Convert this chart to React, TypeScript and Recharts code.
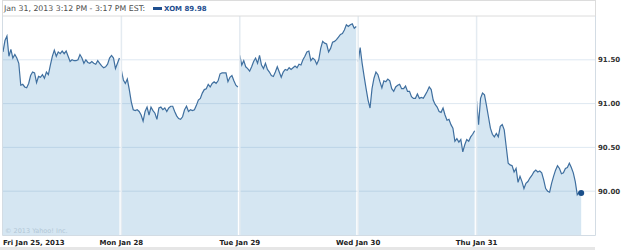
import React from 'react';
import {
  AreaChart,
  Area,
  XAxis,
  YAxis,
  ReferenceLine,
  ReferenceDot
} from 'recharts';

// minutes per trading session (9:30 - 16:00) and sampling step in minutes
const SESSION = 390;
const STEP = 6.5;

const dayLabels = ['Fri Jan 25, 2013', 'Mon Jan 28', 'Tue Jan 29', 'Wed Jan 30', 'Thu Jan 31'];

const fri = [
  91.59, 91.72, 91.77, 91.54, 91.62, 91.52, 91.56, 91.52, 91.46, 91.21,
  91.22, 91.19, 91.18, 91.23, 91.32, 91.36, 91.35, 91.24, 91.31, 91.30,
  91.33, 91.29, 91.36, 91.33, 91.44, 91.54, 91.61, 91.54, 91.59, 91.57,
  91.60, 91.57, 91.60, 91.54, 91.48, 91.50, 91.49, 91.49, 91.50, 91.56,
  91.52, 91.46, 91.50, 91.47, 91.46, 91.48, 91.46, 91.45, 91.49, 91.46,
  91.43, 91.41, 91.42, 91.45, 91.52, 91.55, 91.52, 91.40, 91.46, 91.52
];

const mon = [
  91.38, 91.27, 91.23, 91.28, 91.16, 91.02, 90.93, 90.92, 90.93, 90.91,
  90.87, 90.80, 90.91, 90.96, 90.87, 90.96, 90.92, 90.89, 90.82, 90.95,
  90.96, 90.93, 90.95, 90.91, 90.95, 90.97, 90.97, 90.91, 90.86, 90.83,
  90.82, 90.85, 90.93, 90.97, 90.91, 90.93, 90.92, 90.93, 90.98, 91.04,
  91.06, 91.12, 91.16, 91.17, 91.22, 91.19, 91.23, 91.25, 91.23, 91.26,
  91.34, 91.35, 91.35, 91.35, 91.25, 91.30, 91.32, 91.26, 91.21, 91.19
];

const tue = [
  91.55, 91.44, 91.49, 91.42, 91.40, 91.37, 91.42, 91.48, 91.52, 91.46,
  91.55, 91.44, 91.40, 91.46, 91.39, 91.36, 91.32, 91.31, 91.36, 91.42,
  91.36, 91.30, 91.36, 91.39, 91.38, 91.41, 91.39, 91.41, 91.43, 91.41,
  91.45, 91.44, 91.50, 91.54, 91.59, 91.60, 91.49, 91.52, 91.50, 91.45,
  91.50, 91.63, 91.71, 91.69, 91.68, 91.59, 91.63, 91.70, 91.71, 91.73,
  91.76, 91.79, 91.80, 91.84, 91.90, 91.88, 91.90, 91.91, 91.86, 91.88
];

const wed = [
  91.48, 91.64, 91.46, 91.31, 91.17, 91.04, 90.95, 91.17, 91.29, 91.36,
  91.33, 91.25, 91.18, 91.26, 91.25, 91.28, 91.26, 91.17, 91.14, 91.19,
  91.21, 91.22, 91.17, 91.17, 91.20, 91.14, 91.14, 91.08, 91.06, 91.06,
  91.11, 91.06, 91.07, 91.06, 91.10, 91.14, 91.19, 91.16, 91.04, 90.99,
  90.96, 90.91, 90.90, 90.95, 90.87, 90.81, 90.82, 90.76, 90.72, 90.57,
  90.60, 90.56, 90.59, 90.45, 90.53, 90.59, 90.57, 90.62, 90.65, 90.69
];

const thu = [
  91.03, 90.76, 91.06, 91.12, 91.10, 90.98, 90.85, 90.72, 90.65, 90.62,
  90.66, 90.62, 90.74, 90.76, 90.70, 90.51, 90.32, 90.30, 90.29, 90.22,
  90.26, 90.10, 90.17, 90.11, 90.03, 90.09, 90.11, 90.15, 90.18, 90.22,
  90.24, 90.22, 90.23, 90.21, 90.13, 90.03, 90.00, 89.99, 90.09, 90.17,
  90.24, 90.29, 90.26, 90.20, 90.21, 90.26, 90.27, 90.32, 90.27, 90.21,
  90.11, 89.96, 89.99, 89.98
];

const dayPrices = [fri, mon, tue, wed, thu];
const priceTicks = [90, 90.5, 91, 91.5];
const priceDomain = [89.5, 92];

const symbol = 'XOM';
const headerRange = 'Jan 31, 2013 3:12 PM - 3:17 PM EST:';

// one row per sample, with a null row between sessions so the line breaks
const rows: { t: number; price: number | null }[] = [];
dayPrices.forEach((prices, d) => {
  if (d > 0) rows.push({ t: d * SESSION - STEP / 2, price: null });
  prices.forEach((p, k) => rows.push({ t: d * SESSION + k * STEP, price: p }));
});

const dayStarts = dayLabels.map((_, i) => i * SESSION);
const lastDay = dayPrices.length - 1;
const lastPrice = thu[thu.length - 1];
const lastT = lastDay * SESSION + (thu.length - 1) * STEP;

const FONT = '"DejaVu Sans", Verdana, sans-serif';

const DayTick = (props: any) => {
  const { x, y, payload } = props;
  const i = Math.round(payload.value / SESSION);
  return (
    <text
      x={x}
      y={y}
      dy={10}
      textAnchor={i === 0 ? 'start' : 'middle'}
      fontFamily={FONT}
      fontSize={7}
      fontWeight="bold"
      fill="#222"
    >
      {dayLabels[i]}
    </text>
  );
};

export default function App() {
  return (
    <div style={{ position: 'absolute', left: 0, top: 0, width: 625, height: 250, background: '#fff' }}>
      <AreaChart
        width={625}
        height={250}
        data={rows}
        margin={{ top: 16, right: 0, left: 3, bottom: 0 }}
      >
        <XAxis
          dataKey="t"
          type="number"
          domain={[0, SESSION * dayLabels.length]}
          ticks={dayStarts}
          tick={<DayTick />}
          axisLine={false}
          tickLine={false}
          tickSize={0}
          tickMargin={0}
          height={15}
          interval={0}
        />
        <YAxis
          orientation="right"
          type="number"
          domain={priceDomain}
          ticks={priceTicks}
          tickFormatter={(v: number) => v.toFixed(2)}
          axisLine={false}
          tickLine={false}
          tickSize={0}
          tickMargin={3}
          width={30}
          tick={{ fontSize: 7, fontWeight: 'bold', fill: '#333', fontFamily: FONT }}
        />
        <Area
          type="linear"
          dataKey="price"
          stroke="#3f6f9f"
          strokeWidth={1.2}
          fill="#d5e6f2"
          fillOpacity={1}
          connectNulls={false}
          dot={false}
          activeDot={false}
          isAnimationActive={false}
        />
        {priceTicks.map((v) => (
          <ReferenceLine key={v} y={v} stroke="rgba(90,140,185,0.2)" strokeWidth={1} />
        ))}
        {dayStarts.slice(1).map((t) => (
          <ReferenceLine key={t} x={t} stroke="#e4ebf1" strokeWidth={1.5} />
        ))}
        <ReferenceDot x={lastT} y={lastPrice} r={3} fill="#1a4f8a" stroke="none" />
      </AreaChart>

      <svg
        width={625}
        height={250}
        style={{ position: 'absolute', left: 0, top: 0, pointerEvents: 'none' }}
      >
        <rect x={2.5} y={0.5} width={593} height={15.5} fill="#fff" stroke="#dcdcdc" />
        <text x={4} y={11} fontFamily={FONT} fontSize={7.8} fill="#4d4d4d">
          {headerRange}
        </text>
        <rect x={153} y={7} width={9} height={3} fill="#1f4f8f" />
        <text x={164} y={11} fontFamily={FONT} fontSize={7} fontWeight="bold" fill="#1f4f8f">
          {`${symbol} ${lastPrice.toFixed(2)}`}
        </text>
        <line x1={2.5} y1={16} x2={2.5} y2={235.5} stroke="#d3dce4" />
        <line x1={595.5} y1={16} x2={595.5} y2={235.5} stroke="#d3dce4" />
        <line x1={2.5} y1={235.5} x2={595.5} y2={235.5} stroke="#d3dce4" />
        <text x={5} y={233} fontFamily={FONT} fontSize={6.5} fill="#b3c7d6">
          © 2013 Yahoo! Inc.
        </text>
        <rect x={0} y={247} width={595} height={3} fill="#e6e6e6" />
      </svg>
    </div>
  );
}
